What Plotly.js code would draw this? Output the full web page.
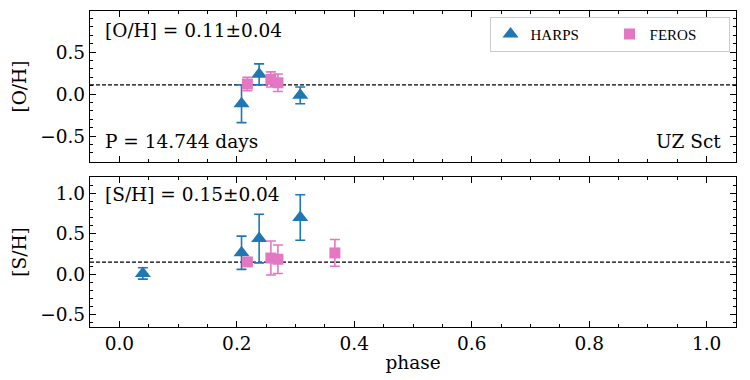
<!DOCTYPE html>
<html>
<head>
<meta charset="utf-8">
<script src="https://cdn.plot.ly/plotly-3.0.1.min.js"></script>
<style>
  html, body { margin: 0; padding: 0; background: #fff; }
  #chart { width: 750px; height: 380px; }
</style>
</head>
<body>
<div id="chart"></div>
<script>
// ========== Data ==========
// HARPS
const harpsPhase = [0.04, 0.208, 0.238, 0.308];
const harpsOH = [null, -0.115, 0.235, -0.015];
const harpsOHErr = [null, 0.225, 0.125, 0.10];
const harpsSH = [0.01, 0.265, 0.44, 0.70];
const harpsSHErr = [0.07, 0.205, 0.30, 0.28];

// FEROS
const ferosPhase = [0.218, 0.258, 0.27, 0.367];
const ferosOH = [0.12, 0.175, 0.135, null];
const ferosOHErr = [0.08, 0.09, 0.105, null];
const ferosSH = [0.152, 0.20, 0.185, 0.263];
const ferosSHErr = [0.03, 0.21, 0.175, 0.165];

// mean abundances
const meanOH = 0.11;
const meanSH = 0.15;
const phaseRange = [-0.05, 1.05];

// ========== Styles ==========
const BLUE = '#1f77b4';
const PINK = '#e377c2';
const SERIF = 'DejaVu Serif';
const TXT = 18.5;

function errTrace(x, y, err, name, color, symbol, size, xa, ya, showLegend) {
  return {
    x: x, y: y,
    type: 'scatter', mode: 'markers',
    name: name,
    xaxis: xa, yaxis: ya,
    showlegend: showLegend,
    marker: { color: color, symbol: symbol, size: size, line: { width: 0 } },
    error_y: { type: 'data', array: err, visible: true, color: color, thickness: 1.6, width: 5 }
  };
}

const data = [
  // top panel: [O/H]
  errTrace(harpsPhase, harpsOH, harpsOHErr, 'HARPS', BLUE, 'triangle-up', 14, 'x2', 'y2', true),
  errTrace(ferosPhase, ferosOH, ferosOHErr, 'FEROS', PINK, 'square', 11, 'x2', 'y2', true),
  // bottom panel: [S/H]
  errTrace(harpsPhase, harpsSH, harpsSHErr, 'HARPS', BLUE, 'triangle-up', 14, 'x', 'y', false),
  errTrace(ferosPhase, ferosSH, ferosSHErr, 'FEROS', PINK, 'square', 11, 'x', 'y', false)
];

const axisCommon = {
  showline: true, linecolor: 'black', linewidth: 1.2,
  mirror: 'allticks', ticks: 'inside', ticklen: 6, tickwidth: 1, tickcolor: 'black',
  showgrid: false, zeroline: false,
  tickfont: { family: SERIF, size: 18.5, color: 'black' }
};

const layout = {
  width: 750, height: 380,
  margin: { l: 90, r: 14, t: 11, b: 53 },
  paper_bgcolor: 'white', plot_bgcolor: 'white',
  font: { family: SERIF, color: 'black' },
  xaxis: Object.assign({}, axisCommon, {
    anchor: 'y', range: phaseRange, dtick: 0.2, tickformat: '.1f',
    minor: { ticks: 'inside', ticklen: 3, dtick: 0.05, tickcolor: 'black' },
    title: { text: 'phase', font: { family: SERIF, size: TXT }, standoff: 2 }
  }),
  xaxis2: Object.assign({}, axisCommon, {
    anchor: 'y2', matches: 'x', range: phaseRange, dtick: 0.2, showticklabels: false,
    minor: { ticks: 'inside', ticklen: 3, dtick: 0.05, tickcolor: 'black' }
  }),
  yaxis: Object.assign({}, axisCommon, {
    domain: [0, 0.475], range: [-0.65, 1.2], dtick: 0.5, tickformat: '.1f',
    minor: { ticks: 'inside', ticklen: 3, dtick: 0.1, tickcolor: 'black' },
    title: { text: '[S/H]', font: { family: SERIF, size: TXT }, standoff: 8 }
  }),
  yaxis2: Object.assign({}, axisCommon, {
    domain: [0.522, 1], range: [-0.81, 0.99], dtick: 0.5, tickformat: '.1f',
    minor: { ticks: 'inside', ticklen: 3, dtick: 0.1, tickcolor: 'black' },
    title: { text: '[O/H]', font: { family: SERIF, size: TXT }, standoff: 8 }
  }),
  shapes: [
    { type: 'line', xref: 'x2 domain', yref: 'y2', x0: 0, x1: 1, y0: meanOH, y1: meanOH,
      line: { color: 'black', width: 1.2, dash: '4px,2px' }, layer: 'below' },
    { type: 'line', xref: 'x domain', yref: 'y', x0: 0, x1: 1, y0: meanSH, y1: meanSH,
      line: { color: 'black', width: 1.2, dash: '4px,2px' }, layer: 'below' }
  ],
  annotations: [
    { xref: 'x2 domain', yref: 'y2 domain', x: 0.02, y: 0.87, xanchor: 'left', yanchor: 'middle',
      text: '[O/H] = 0.11±0.04', showarrow: false, font: { family: SERIF, size: TXT } },
    { xref: 'x2 domain', yref: 'y2 domain', x: 0.02, y: 0.135, xanchor: 'left', yanchor: 'middle',
      text: 'P = 14.744 days', showarrow: false, font: { family: SERIF, size: TXT } },
    { xref: 'x2 domain', yref: 'y2 domain', x: 0.98, y: 0.135, xanchor: 'right', yanchor: 'middle',
      text: 'UZ Sct', showarrow: false, font: { family: SERIF, size: TXT } },
    { xref: 'x domain', yref: 'y domain', x: 0.02, y: 0.88, xanchor: 'left', yanchor: 'middle',
      text: '[S/H] = 0.15±0.04', showarrow: false, font: { family: SERIF, size: TXT } }
  ],
  legend: {
    orientation: 'h', x: 0.99, xanchor: 'right', y: 0.982, yanchor: 'top',
    bgcolor: 'white', bordercolor: '#cccccc', borderwidth: 1,
    font: { family: 'Liberation Serif', size: 15, color: 'black' },
    entrywidth: 74, itemwidth: 30, tracegroupgap: 0
  }
};

Plotly.newPlot('chart', data, layout, { displayModeBar: false, staticPlot: true });
</script>
</body>
</html>
